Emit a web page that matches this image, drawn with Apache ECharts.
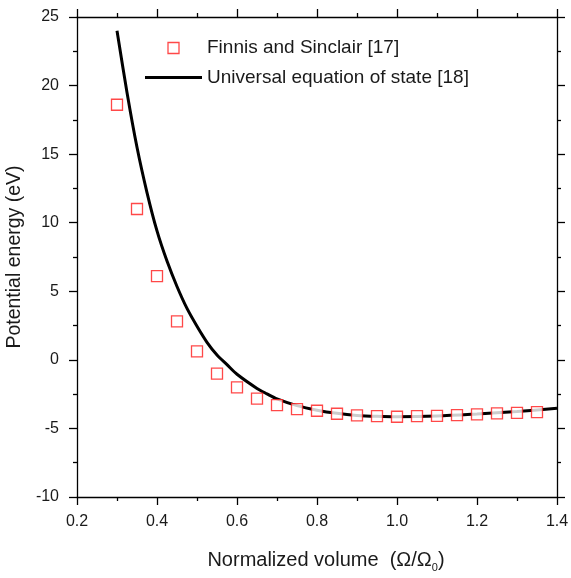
<!DOCTYPE html>
<html>
<head>
<meta charset="utf-8">
<script src="https://cdn.jsdelivr.net/npm/echarts@6/dist/echarts.min.js"></script>
<style>
html, body { margin: 0; padding: 0; background: #fff; }
#main { width: 571px; height: 578px; }
</style>
</head>
<body>
<div id="main"></div>
<script>
// Finnis and Sinclair [17] (squares)
var fsVolume = [0.30, 0.35, 0.40, 0.45, 0.50, 0.55, 0.60, 0.65, 0.70, 0.75, 0.80, 0.85,
    0.90, 0.95, 1.00, 1.05, 1.10, 1.15, 1.20, 1.25, 1.30, 1.35];
var fsEnergy = [18.6, 11.0, 6.1, 2.8, 0.62, -1.0, -2.0, -2.83, -3.3, -3.59, -3.71, -3.93,
    -4.05, -4.1, -4.15, -4.1, -4.08, -4.03, -3.98, -3.9, -3.86, -3.81];

// Universal equation of state [18] (line)
var ueosVolume = [0.30, 0.325, 0.35, 0.375, 0.40, 0.425, 0.45, 0.475, 0.50, 0.525, 0.55, 0.575,
    0.60, 0.65, 0.675, 0.70, 0.75, 0.80, 0.85, 0.90, 0.95, 1.00, 1.10, 1.20, 1.30, 1.40];
var ueosEnergy = [24.0, 19.5, 15.5, 12.2, 9.4, 7.2, 5.35, 3.75, 2.45, 1.28, 0.35, -0.35,
    -1.05, -2.08, -2.48, -2.85, -3.34, -3.67, -3.9, -4.05, -4.12, -4.15, -4.1, -3.95, -3.77, -3.53];

var seriesNames = ['Finnis and Sinclair [17]', 'Universal equation of state [18]'];

function pairs(xs, ys) {
    return xs.map(function (x, i) { return [x, ys[i]]; });
}

var font = '"Liberation Sans", Arial, Helvetica, sans-serif';
var ink = '#1a1a1a';
var red = '#ff1a1a';

function frameAxis(extra) {
    var base = {
        type: 'value',
        axisLine: { onZero: false, lineStyle: { color: '#000', width: 1.3 } },
        axisTick: { inside: false, length: 8, lineStyle: { color: '#000', width: 1.3 } },
        minorTick: { show: true, splitNumber: 2, length: 4, lineStyle: { color: '#000', width: 1.3 } },
        splitLine: { show: false }
    };
    return Object.assign(base, extra);
}

var myChart = echarts.init(document.getElementById('main'));
myChart.setOption({
    animation: false,
    backgroundColor: '#fff',
    textStyle: { fontFamily: font, color: ink },
    grid: { left: 77, right: 14, top: 17, bottom: 81, containLabel: false, outerBoundsMode: 'none' },
    legend: {
        orient: 'vertical',
        left: 145, top: 37, padding: 0,
        itemWidth: 57, itemHeight: 11, itemGap: 7.5,
        textStyle: { fontFamily: font, fontSize: 19, color: ink, lineHeight: 22 },
        data: [{
            name: seriesNames[0],
            icon: 'path://M0,0L10,0L10,10L0,10Z',
            itemStyle: { color: '#fff', borderColor: red, borderWidth: 1.3 }
        }, {
            name: seriesNames[1],
            icon: 'path://M0,0L57,0L57,3L0,3Z',
            itemStyle: { color: '#000', borderWidth: 0 }
        }]
    },
    xAxis: [frameAxis({
        min: 0.2, max: 1.4, interval: 0.2,
        name: '{t|Normalized volume  (Ω/Ω}{s|0}{t|)}',
        nameLocation: 'middle', nameGap: 51,
        nameTextStyle: {
            padding: [0, 0, 0, 18],
            rich: {
                t: { fontFamily: font, fontSize: 20, color: ink },
                s: { fontFamily: font, fontSize: 11, color: ink, padding: [14, 0, 0, 0] }
            }
        },
        axisLabel: { margin: 17, fontSize: 16, color: ink, formatter: function (v) { return v.toFixed(1); } }
    }), frameAxis({
        position: 'top', min: 0.2, max: 1.4, interval: 0.2,
        axisLabel: { show: false }
    })],
    yAxis: [frameAxis({
        min: -10, max: 25, interval: 5,
        name: 'Potential energy (eV)',
        nameLocation: 'middle', nameGap: 49,
        nameTextStyle: { fontFamily: font, fontSize: 19.5, color: ink },
        axisLabel: { margin: 18, fontSize: 16, color: ink }
    }), frameAxis({
        position: 'right', min: -10, max: 25, interval: 5,
        axisLabel: { show: false }
    })],
    series: [{
        name: seriesNames[1],
        type: 'line',
        data: pairs(ueosVolume, ueosEnergy),
        smooth: 0.3,
        showSymbol: false,
        symbol: 'none',
        lineStyle: { color: '#000', width: 3 },
        itemStyle: { color: '#000' },
        z: 2
    }, {
        name: seriesNames[0],
        type: 'scatter',
        data: pairs(fsVolume, fsEnergy),
        symbol: 'rect',
        symbolSize: 11,
        itemStyle: { color: '#fff', borderColor: red, borderWidth: 1.3 },
        z: 3
    }]
});
</script>
</body>
</html>
